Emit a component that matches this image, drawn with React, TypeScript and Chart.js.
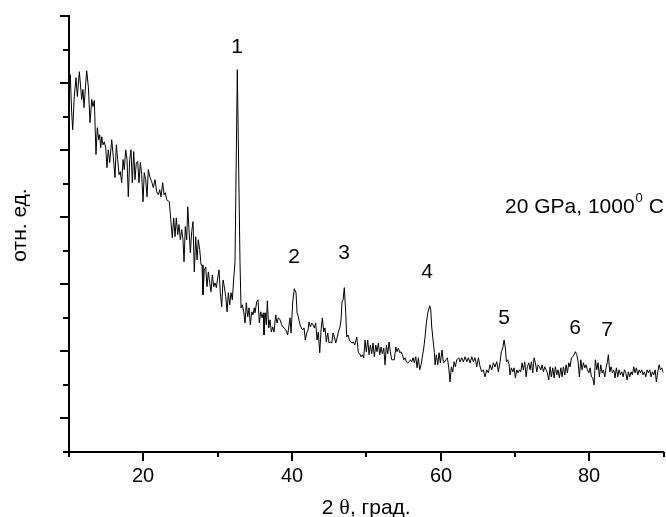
import React, { useEffect, useRef } from "react";
import { Chart, registerables } from "chart.js";

Chart.register(...registerables);

// Diffraction pattern, 2θ in degrees
const twoTheta = [
  10.0, 10.17, 10.36, 10.5, 10.71, 10.94, 11.12, 11.39, 11.71, 11.88, 12.02, 12.38, 12.6, 12.83, 13.06, 13.23,
  13.41, 13.63, 13.81, 14.0, 14.13, 14.27, 14.4, 14.58, 14.75, 14.94, 15.11, 15.29, 15.48, 15.75, 15.96, 16.19,
  16.37, 16.55, 16.73, 16.9, 17.09, 17.27, 17.44, 17.63, 17.81, 17.98, 18.17, 18.34, 18.52, 18.71, 18.88, 19.06,
  19.25, 19.42, 19.6, 19.78, 19.96, 20.13, 20.32, 20.5, 20.67, 20.9, 21.13, 21.35, 21.57, 21.8, 22.02, 22.21,
  22.38, 22.61, 22.79,
  22.96, 23.15, 23.5, 23.73, 23.9, 24.09, 24.27, 24.44, 24.63, 24.8, 24.98, 25.17, 25.34, 25.48, 25.65, 25.84,
  25.98, 26.15, 26.33, 26.51, 26.69, 26.86, 27.05, 27.23, 27.4, 27.59, 27.77, 27.9, 28.03, 28.21, 28.4, 28.57,
  28.75, 28.94, 29.11, 29.29, 29.48, 29.65, 29.83, 30.01, 30.19, 30.36, 30.55, 30.73, 30.9, 31.09, 31.27, 31.44,
  31.63, 31.8, 31.98, 32.17, 32.34, 32.65, 33.01, 33.15, 33.32, 33.51, 33.69, 33.86, 34.05, 34.23, 34.4, 34.59,
  34.76, 34.94,
  35.03, 35.26, 35.44, 35.61, 35.8, 35.98, 36.15, 36.24, 36.42, 36.56, 36.69, 36.88, 37.05, 37.23, 37.42, 37.59,
  37.82, 37.99, 38.17, 38.4, 38.63, 38.9, 39.17, 39.43, 39.57, 39.74, 39.88, 40.11, 40.32, 40.55, 40.69, 40.86,
  41.09, 41.27, 41.45, 41.63, 41.8, 41.99, 42.17, 42.3, 42.48, 42.67, 42.84, 43.01, 43.2, 43.38, 43.55, 43.74,
  43.92, 44.09, 44.28, 44.45, 44.63, 44.82, 44.99, 45.17, 45.36, 45.53, 45.71, 45.9, 46.07, 46.25, 46.47, 46.61,
  46.74, 46.88, 47.05, 47.24, 47.37, 47.55, 47.73, 47.91, 48.09, 48.26, 48.45,
  48.72, 48.94, 49.13, 49.3, 49.48, 49.66, 49.84, 50.01, 50.2, 50.38, 50.55, 50.74, 50.91, 51.09, 51.28, 51.45,
  51.63, 51.82, 51.99, 52.17, 52.36, 52.53, 52.71, 52.89, 53.07, 53.24, 53.43, 53.61, 53.78, 53.97, 54.15, 54.32,
  54.51, 54.68, 54.86, 55.05, 55.22, 55.4, 55.59, 55.76, 55.94, 56.12, 56.3, 56.47, 56.66, 56.84, 57.01, 57.2,
  57.38, 57.74, 57.91, 58.09, 58.28, 58.54, 58.68, 58.81, 58.99, 59.17, 59.26, 59.43, 59.62, 59.8, 59.97, 60.2,
  60.38, 60.57, 60.74, 60.92, 61.1, 61.28, 61.45, 61.64, 61.82, 61.99, 62.18, 62.45, 62.62, 62.85, 63.07, 63.3,
  63.53, 63.74, 63.97, 64.2, 64.41, 64.64, 64.87, 65.09, 65.32, 65.54, 65.76, 65.99, 66.22, 66.43, 66.66, 66.89,
  67.11, 67.33, 67.56, 67.78, 68.01, 68.18, 68.37, 68.55, 68.72, 68.86, 69.04, 69.22, 69.35, 69.53, 69.72, 69.89,
  70.07, 70.26, 70.43, 70.61, 70.79, 70.97, 71.14, 71.33, 71.51, 71.68, 71.87, 72.05, 72.22, 72.41, 72.58, 72.76,
  72.95, 73.12, 73.3, 73.49, 73.66, 73.84, 74.02, 74.2, 74.37, 74.56, 74.74, 74.91, 75.1, 75.28, 75.45, 75.64,
  75.81, 75.99, 76.18, 76.35, 76.53, 76.72, 76.89, 77.07, 77.26, 77.43, 77.61, 77.79, 77.97, 78.14, 78.33, 78.51,
  78.68, 78.87, 79.04, 79.22, 79.41, 79.58, 79.76, 79.95, 80.12, 80.3, 80.48, 80.66, 80.83, 81.02, 81.2, 81.37,
  81.56, 81.74, 81.91, 82.1, 82.27, 82.45, 82.58, 82.77, 82.95, 83.12, 83.31, 83.48, 83.66, 83.85, 84.02, 84.2,
  84.39, 84.56, 84.74, 84.93, 85.1, 85.28, 85.46, 85.64, 85.81, 86.0, 86.17, 86.35, 86.54, 86.72, 86.89, 87.08,
  87.25, 87.43, 87.62, 87.79, 87.97, 88.16, 88.33, 88.51, 88.69, 88.87, 89.04, 89.23, 89.41, 89.58, 89.77, 89.98,
];

// Intensity, arbitrary units
const intensity = [
  1051, 1125, 1012, 961, 1060, 1116, 1060, 1134, 1051, 1081, 1027, 1137, 1090, 982, 1051, 1030,
  1048, 887, 967, 931, 946, 907, 940, 916, 925, 907, 848, 901, 863, 931, 881, 818,
  916, 872, 827, 836, 803, 872, 842, 901, 872, 761, 872, 901, 803, 896, 812, 863,
  866, 803, 863, 827, 746, 833, 812, 761, 842, 818, 806, 788, 812, 776, 767, 782,
  761, 803, 767,
  773, 752, 746, 684, 639, 698, 642, 698, 648, 678, 633, 663, 633, 567, 672, 633,
  731, 663, 594, 657, 687, 537, 642, 573, 633, 603, 558, 558, 469, 543, 552, 493,
  537, 504, 478, 528, 493, 504, 490, 519, 543, 475, 433, 513, 493, 463, 418, 475,
  439, 475, 454, 519, 567, 1140, 567, 430, 439, 418, 385, 445, 403, 430, 379, 418,
  409, 430,
  415, 448, 454, 385, 418, 400, 415, 349, 415, 379, 451, 370, 394, 358, 373, 358,
  409, 385, 400, 394, 379, 370, 364, 349, 373, 400, 355, 448, 487, 475, 415, 403,
  379, 370, 364, 370, 334, 355, 364, 388, 373, 385, 379, 370, 385, 334, 358, 296,
  364, 400, 358, 370, 328, 355, 325, 328, 325, 355, 343, 325, 340, 358, 373, 394,
  448, 454, 490, 415, 343, 349, 334, 328, 325, 328, 319,
  343, 296, 293, 284, 290, 281, 334, 299, 334, 290, 319, 293, 325, 284, 319, 299,
  325, 290, 313, 293, 310, 260, 319, 293, 328, 299, 275, 275, 275, 313, 299, 310,
  296, 299, 290, 275, 281, 269, 266, 269, 275, 269, 281, 266, 284, 251, 281, 245,
  260, 310, 343, 385, 415, 436, 424, 373, 334, 296, 260, 290, 260, 296, 266, 304,
  266, 269, 275, 281, 251, 209, 254, 239, 269, 254, 275, 281, 269, 281, 269, 284,
  269, 281, 266, 284, 269, 281, 254, 281, 254, 239, 245, 224, 245, 236, 260, 245,
  266, 254, 269, 239, 269, 299, 310, 334, 310, 269, 275, 260, 230, 251, 239, 251,
  221, 245, 236, 245, 239, 266, 245, 269, 224, 254, 266, 245, 269, 236, 281, 266,
  239, 260, 254, 245, 260, 239, 254, 245, 236, 215, 254, 224, 251, 221, 254, 230,
  245, 221, 251, 224, 254, 230, 260, 236, 266, 254, 281, 284, 290, 299, 290, 269,
  224, 275, 245, 266, 251, 260, 245, 236, 251, 224, 221, 200, 275, 245, 266, 224,
  260, 236, 245, 224, 251, 269, 290, 239, 254, 236, 245, 221, 251, 224, 245, 230,
  239, 224, 245, 236, 215, 239, 224, 239, 230, 254, 236, 251, 230, 245, 236, 245,
  230, 239, 224, 245, 236, 245, 224, 239, 230, 245, 209, 239, 260, 245, 251, 236,
];

// Reflection numbers and where they are written (2θ, intensity)
const peakLabels = ["1", "2", "3", "4", "5", "6", "7"];
const peakLabelX = [32.61, 40.28, 47.01, 58.18, 68.55, 78.1, 82.41];
const peakLabelY = [1206, 582, 594, 537, 400, 370, 364];

// Axis settings
const xTickValues = [10, 20, 30, 40, 50, 60, 70, 80, 90];
const xTickLabels = ["", "20", "", "40", "", "60", "", "80", ""];
const Y_MAX = 1300;
const Y_STEP = 100;

const SANS = "Arial, 'Liberation Sans', sans-serif";
const SERIF = "'Times New Roman', 'Liberation Serif', serif";

const decorPlugin = {
  id: "decor",
  afterDraw(chart: any) {
    const { ctx, scales, chartArea } = chart;
    const x = scales.x;
    const y = scales.y;
    ctx.save();
    ctx.strokeStyle = "#000";
    ctx.fillStyle = "#000";
    ctx.lineWidth = 2;

    // y tick marks, long on odd steps
    for (let v = 0; v <= Y_MAX; v += Y_STEP) {
      const py = Math.round(y.getPixelForValue(v));
      const major = Math.round(v / Y_STEP) % 2 === 1;
      const len = major ? 9 : 6;
      ctx.beginPath();
      ctx.moveTo(chartArea.left, py);
      ctx.lineTo(chartArea.left - len, py);
      ctx.stroke();
    }

    // x tick marks and labels
    ctx.font = `20px ${SANS}`;
    ctx.textAlign = "center";
    ctx.textBaseline = "middle";
    xTickValues.forEach((v, i) => {
      const px = Math.round(x.getPixelForValue(v));
      const major = xTickLabels[i] !== "";
      const len = major ? 9 : 5;
      ctx.beginPath();
      ctx.moveTo(px, chartArea.bottom);
      ctx.lineTo(px, chartArea.bottom + len);
      ctx.stroke();
      if (major) ctx.fillText(xTickLabels[i], px, chartArea.bottom + 24);
    });

    // peak numbers
    ctx.font = `21px ${SANS}`;
    peakLabels.forEach((t, i) => {
      ctx.fillText(t, x.getPixelForValue(peakLabelX[i]), y.getPixelForValue(peakLabelY[i]));
    });

    // x axis title: "2 θ, град."
    const cx = (chartArea.left + chartArea.right) / 2;
    const ty = chartArea.bottom + 56;
    const parts = [
      { t: "2 ", f: `21px ${SANS}` },
      { t: "θ", f: `22px ${SERIF}` },
      { t: ", град.", f: `21px ${SANS}` },
    ];
    let total = 0;
    parts.forEach((p) => {
      ctx.font = p.f;
      total += ctx.measureText(p.t).width;
    });
    let px = cx - total / 2;
    ctx.textAlign = "left";
    parts.forEach((p) => {
      ctx.font = p.f;
      ctx.fillText(p.t, px, ty);
      px += ctx.measureText(p.t).width;
    });

    // y axis title
    ctx.save();
    ctx.translate(20, 225);
    ctx.rotate(-Math.PI / 2);
    ctx.textAlign = "center";
    ctx.font = `21px ${SANS}`;
    ctx.fillText("отн. ед.", 0, 0);
    ctx.restore();

    // sample conditions
    ctx.textAlign = "left";
    let ax = 505;
    const ay = y.getPixelForValue(730);
    ctx.font = `21px ${SANS}`;
    ctx.fillText("20 GPa, 1000", ax, ay);
    ax += ctx.measureText("20 GPa, 1000").width;
    ctx.font = `13px ${SANS}`;
    ctx.fillText("0", ax + 1, ay - 9);
    ax += ctx.measureText("0").width + 1;
    ctx.font = `21px ${SANS}`;
    ctx.fillText(" C", ax, ay);

    ctx.restore();
  },
};

export default function App() {
  const canvasRef = useRef<HTMLCanvasElement | null>(null);

  useEffect(() => {
    document.body.style.margin = "0";
    const canvas = canvasRef.current;
    if (!canvas) return;
    const chart = new Chart(canvas, {
      type: "line",
      data: {
        datasets: [
          {
            data: twoTheta.map((t, i) => ({ x: t, y: intensity[i] })),
            borderColor: "#000",
            borderWidth: 1,
            pointRadius: 0,
            tension: 0,
            fill: false,
          },
        ],
      },
      options: {
        animation: false,
        responsive: false,
        devicePixelRatio: 1,
        layout: { padding: { left: 69, right: 2.5, top: 16, bottom: 65 } },
        plugins: { legend: { display: false }, tooltip: { enabled: false } },
        scales: {
          x: {
            type: "linear",
            min: 10,
            max: 90,
            ticks: { display: false, stepSize: 10 },
            grid: { display: false, drawTicks: false },
            border: { display: true, color: "#000", width: 2 },
          },
          y: {
            type: "linear",
            min: 0,
            max: Y_MAX,
            ticks: { display: false, stepSize: Y_STEP },
            grid: { display: false, drawTicks: false },
            border: { display: true, color: "#000", width: 2 },
          },
        },
      },
      plugins: [decorPlugin],
    } as any);
    return () => chart.destroy();
  }, []);

  return (
    <div style={{ width: 666, height: 517, background: "#fff" }}>
      <canvas ref={canvasRef} width={666} height={517} style={{ display: "block" }} />
    </div>
  );
}
